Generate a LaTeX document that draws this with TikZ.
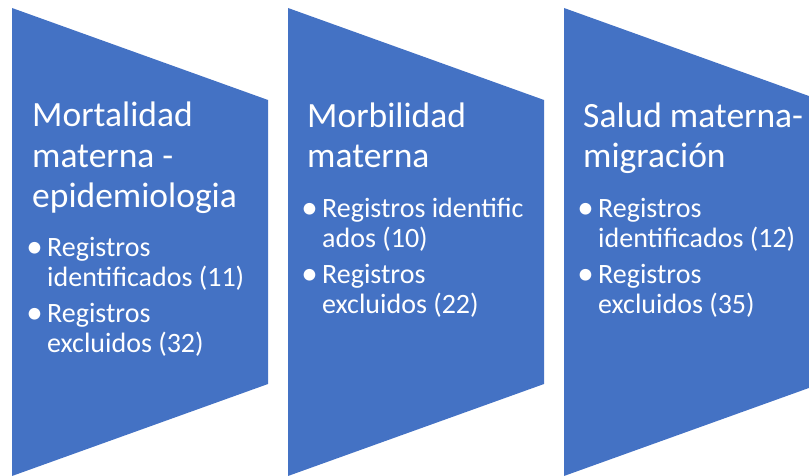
\documentclass[tikz,border=0pt]{standalone}
\usepackage{fontspec}
\setmainfont{Carlito}
\definecolor{chevblue}{HTML}{4472C4}
\tikzset{
  stage/.style={fill=chevblue, draw=none},
  headtext/.style={anchor=base west, inner sep=0pt, align=left, text=white,
    font=\fontsize{35.5}{40.5}\selectfont},
  itemtext/.style={anchor=base west, inner sep=0pt, align=left, text=white,
    font=\fontsize{28}{30}\selectfont}
}
% bullet hung to the left of the first line
\newcommand{\bul}{\llap{\raisebox{-0.5pt}{\fontsize{33}{0}\selectfont\textbullet}\hspace{4.5pt}}}
\begin{document}
\begin{tikzpicture}[x=1pt,y=1pt]
            \useasboundingbox (0,0) rectangle (809,476);
            \clip (0,0) rectangle (809,476);
            \foreach \s in {0,276,552}
                \fill[stage] (12+\s,468) -- (268+\s,376) -- (268+\s,92) -- (12+\s,0) -- cycle;

            \node[headtext] (h1) at (32,268) {Mortalidad\\materna -\\epidemiologia};
            \node[itemtext] (a1) at (47,189) {\bul Registros\\identificados (11)};
            \node[itemtext] (b1) at (47,123) {\bul Registros\\excluidos (32)};

            \node[headtext] (h2) at (307,308) {Morbilidad\\materna};
            \node[itemtext] (a2) at (322,228) {\bul Registros identific\\ados (10)};
            \node[itemtext] (b2) at (322,162) {\bul Registros\\excluidos (22)};

            \node[headtext] (h3) at (583,308) {Salud materna-\\migración};
            \node[itemtext] (a3) at (598,228) {\bul Registros\\identificados (12)};
            \node[itemtext] (b3) at (598,162) {\bul Registros\\excluidos (35)};
        \end{tikzpicture}
\end{document}
